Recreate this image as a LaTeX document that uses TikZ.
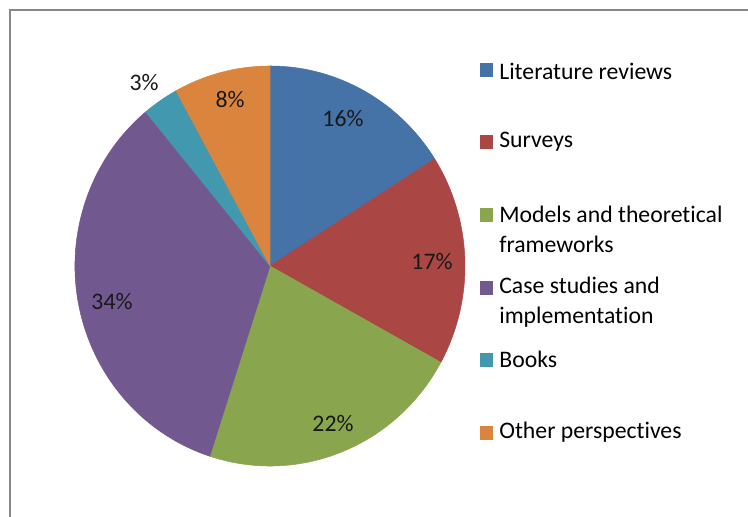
\documentclass[tikz,border=0pt]{standalone}
\usepackage{fontspec}
\setmainfont{Carlito}[Ligatures=NoCommon]
\usepackage{tikz}
\usetikzlibrary{positioning,calc}
\definecolor{litblue}{HTML}{4572A7}
\definecolor{survred}{HTML}{AA4643}
\definecolor{modgreen}{HTML}{89A54E}
\definecolor{casepurple}{HTML}{71588F}
\definecolor{bookteal}{HTML}{4198AF}
\definecolor{othorange}{HTML}{DB843D}
\definecolor{framegray}{HTML}{888888}
\tikzset{
    slice/.style={draw=white, line width=0.3pt},
    pct/.style={font=\fontsize{13.5}{17}\selectfont, text=black!90, inner sep=0pt},
    keybox/.style={minimum size=0.27cm, inner sep=0pt},
    keytext/.style={font=\fontsize{13.5}{17}\selectfont, anchor=west, align=left, inner sep=0pt},
    chartframe/.style={draw=framegray, line width=1.1pt},
}

\begin{document}
\begin{tikzpicture}[x=0.02cm, y=0.02cm]
    \useasboundingbox (-270,-251) rectangle (478,266);

    % Chart frame (right and bottom sides fall outside)
    \draw[chartframe] (-260,-260) -- (-260,256) -- (490,256);

    % Pie slices, clockwise from the top
    \fill[slice, litblue]    (0,0) -- (90:195 and 200) arc[start angle=90, end angle=32.4, x radius=195, y radius=200] -- cycle;
    \fill[slice, survred]    (0,0) -- (32.4:195 and 200) arc[start angle=32.4, end angle=-28.8, x radius=195, y radius=200] -- cycle;
    \fill[slice, modgreen]   (0,0) -- (-28.8:195 and 200) arc[start angle=-28.8, end angle=-108, x radius=195, y radius=200] -- cycle;
    \fill[slice, casepurple] (0,0) -- (-108:195 and 200) arc[start angle=-108, end angle=-230.4, x radius=195, y radius=200] -- cycle;
    \fill[slice, bookteal]   (0,0) -- (-230.4:195 and 200) arc[start angle=-230.4, end angle=-241.2, x radius=195, y radius=200] -- cycle;
    \fill[slice, othorange]  (0,0) -- (-241.2:195 and 200) arc[start angle=-241.2, end angle=-270, x radius=195, y radius=200] -- cycle;

    % Percentages
    \node[pct] (pLit)   at (73,147)   {16\%};
    \node[pct] (pSurv)  at (162,4)    {17\%};
    \node[pct] (pMod)   at (63,-158)  {22\%};
    \node[pct] (pCase)  at (-158,-36) {34\%};
    \node[pct] (pBook)  at (-126,183) {3\%};
    \node[pct] (pOther) at (-40,166)  {8\%};

    % Legend
    \node[keybox, fill=litblue]    (kLit)   at (216.5,196) {};
    \node[keybox, fill=survred]    (kSurv)  at (216.5,124) {};
    \node[keybox, fill=modgreen]   (kMod)   at (216.5,51)  {};
    \node[keybox, fill=casepurple] (kCase)  at (216.5,-22) {};
    \node[keybox, fill=bookteal]   (kBook)  at (216.5,-94) {};
    \node[keybox, fill=othorange]  (kOther) at (216.5,-167) {};

    \node[keytext] (tLit)   at (229,195)  {Literature reviews};
    \node[keytext] (tSurv)  at (229,124)  {Surveys};
    \node[keytext] (tMod)   at (229,37)   {Models and theoretical\\frameworks};
    \node[keytext] (tCase)  at (229,-36)  {Case studies and\\implementation};
    \node[keytext] (tBook)  at (229,-93)  {Books};
    \node[keytext] (tOther) at (229,-166) {Other perspectives};
\end{tikzpicture}
\end{document}
